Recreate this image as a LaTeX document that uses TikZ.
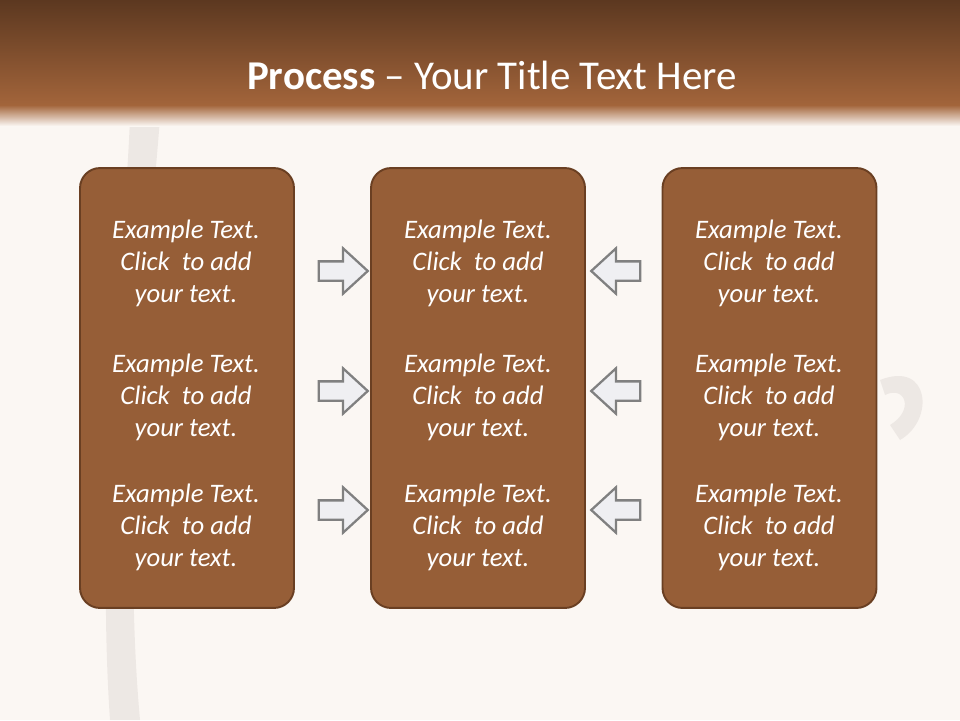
\documentclass[tikz,border=0pt]{standalone}
\usepackage{fontspec}
\setmainfont{Carlito}
\usetikzlibrary{shapes.arrows}

\definecolor{boxbrown}{HTML}{965E37}
\definecolor{boxedge}{HTML}{6A3F22}
\definecolor{bandtop}{HTML}{5C3820}
\definecolor{bandlow}{HTML}{A3653B}
\definecolor{paper}{HTML}{FBF7F3}
\definecolor{smudge}{HTML}{D9D3CF}
\definecolor{arrowfill}{HTML}{EFEFF2}
\definecolor{arrowedge}{HTML}{808080}

\tikzset{
  stepbox/.style={draw=boxedge, line width=1.1pt, fill=boxbrown, rounded corners=0.4cm,
    minimum width=4.28cm, minimum height=8.8cm},
  steptext/.style={text=white, font=\itshape\fontsize{15.2}{18.2}\selectfont, align=center},
  pointer/.style={single arrow, draw=arrowedge, line width=1.3pt, fill=arrowfill,
    inner xsep=0pt, inner ysep=0.17cm, minimum height=0.98cm, single arrow head extend=0.26cm,
    single arrow tip angle=85},
}

\begin{document}
\begin{tikzpicture}[x=0.02cm, y=-0.02cm]
% page and title band
\fill[paper] (0,0) rectangle (960,720);
\fill[smudge, opacity=0.4] (130,118) -- (160,118) .. controls (150,250) and (120,500) .. (140,720) -- (110,720) .. controls (95,500) and (125,250) .. cycle;
\fill[smudge, opacity=0.4] (880,380) .. controls (930,360) and (935,420) .. (900,440) -- (890,425) .. controls (915,410) and (905,385) .. (885,395) -- cycle;
\shade[top color=bandtop, bottom color=bandlow] (0,0) rectangle (960,106);
\shade[top color=bandlow, bottom color=paper] (0,105) rectangle (960,126);
\node[text=white, font=\fontsize{23.3}{27}\selectfont] (title) at (492,75) {\textbf{Process} -- Your Title Text Here};

% boxes
\node[stepbox] (leftbox) at (187,388) {};
\node[stepbox] (midbox) at (478,388) {};
\node[stepbox] (rightbox) at (769.5,388) {};

% texts
\foreach \nm/\xx in {left/186, mid/478, right/769}{
  \node[steptext] (\nm1) at (\xx,263) {Example Text.\\Click~ to add\\your text.};
  \node[steptext] (\nm2) at (\xx,397) {Example Text.\\Click~ to add\\your text.};
  \node[steptext] (\nm3) at (\xx,527) {Example Text.\\Click~ to add\\your text.};
}

% arrows
\foreach \yy/\k in {271/1, 391/2, 510/3}{
  \node[pointer] (into\k) at (338,\yy) {};
  \node[pointer, shape border rotate=180] (back\k) at (621,\yy) {};
}
\end{tikzpicture}
\end{document}
